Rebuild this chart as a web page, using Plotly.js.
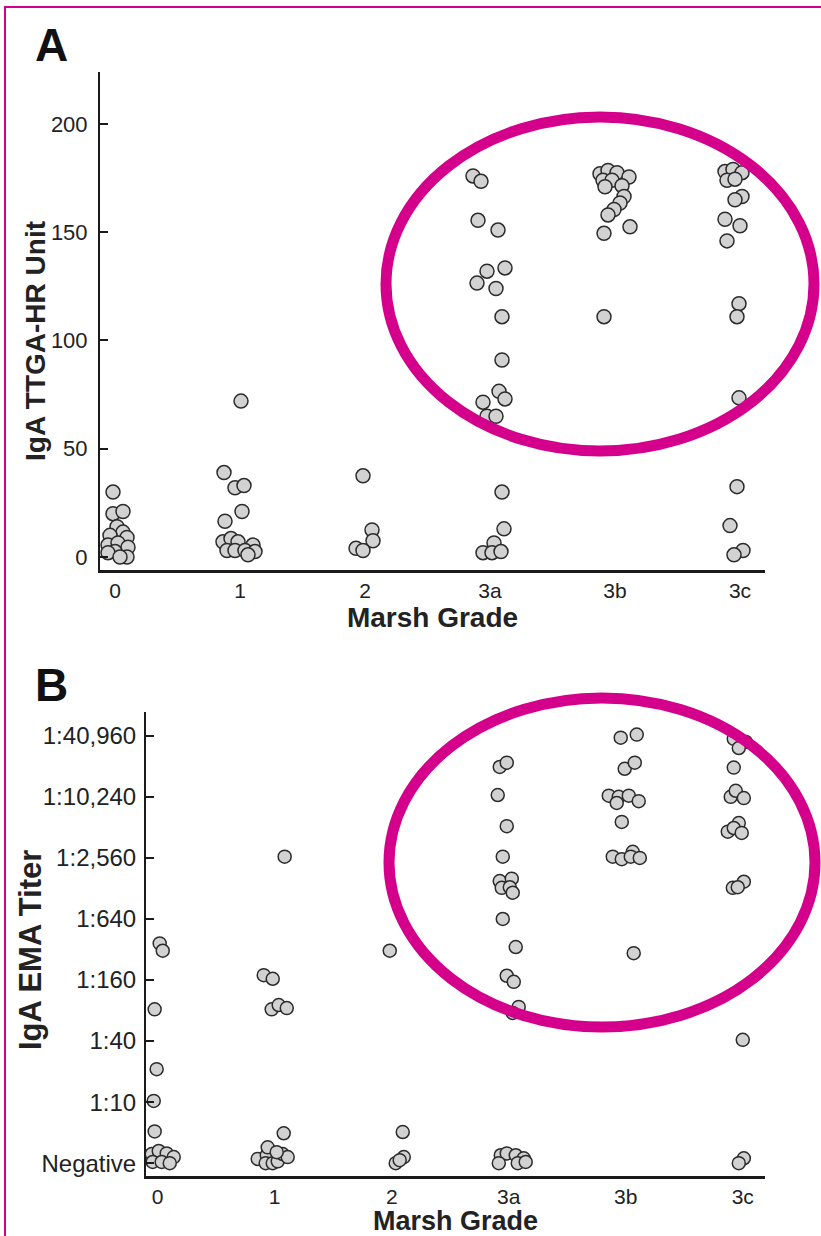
<!DOCTYPE html>
<html><head><meta charset="utf-8">
<script src="https://cdn.plot.ly/plotly-3.0.1.min.js"></script>
<style>html,body{margin:0;padding:0;background:#fff}</style>
</head><body><div id="chart" style="width:821px;height:1236px"></div>
<script>
// Categories and tick labels
const gradeLabels = ["0", "1", "2", "3a", "3b", "3c"];
const ttgTicks = [0, 50, 100, 150, 200];
const titerLabels = ["Negative", "1:10", "1:40", "1:160", "1:640", "1:2,560", "1:10,240", "1:40,960"];

// Panel A: IgA TTGA-HR units per Marsh grade, with horizontal jitter (category units)
const ttg0 = [30, 20, 21, 14, 11.5, 10, 9, 5.5, 6.5, 4.5, 2.5, 0, 2, 0];
const ttg0Jit = [-0.016, -0.016, 0.064, 0.016, 0.064, -0.04, 0.096, -0.056, 0.024, 0.104, 0, 0.096, -0.056, 0.04];
const ttg1 = [72, 39, 32, 33, 21, 16.5, 7, 8.5, 7, 5.5, 3, 3, 3, 2.5, 1];
const ttg1Jit = [0.008, -0.128, -0.04, 0.032, 0.016, -0.12, -0.136, -0.072, -0.016, 0.104, -0.104, -0.04, 0.04, 0.12, 0.064];
const ttg2 = [37.5, 12.5, 7.5, 4, 3];
const ttg2Jit = [-0.016, 0.056, 0.064, -0.072, -0.016];
const ttg3a = [176, 173.5, 155.5, 151, 132, 133.5, 126.5, 124, 111, 91, 71.5, 76.5, 73, 65, 65, 30, 13, 6.5, 2, 2, 2.5];
const ttg3aJit = [-0.136, -0.072, -0.096, 0.064, -0.024, 0.12, -0.104, 0.048, 0.096, 0.096, -0.056, 0.072, 0.12, -0.024, 0.048, 0.096, 0.112, 0.032, -0.056, 0.016, 0.088];
const ttg3b = [177, 178.5, 177.5, 175.5, 174, 174, 171, 171.5, 166.5, 163.5, 160.5, 158, 152.5, 149.5, 111];
const ttg3bJit = [-0.12, -0.056, 0.016, 0.112, -0.096, -0.024, -0.08, 0.056, 0.072, 0.04, -0.008, -0.056, 0.12, -0.088, -0.088];
const ttg3c = [178, 179, 177.5, 174, 174.5, 166.5, 165, 156, 153, 146, 117, 111, 73.5, 32.5, 14.5, 3, 1];
const ttg3cJit = [-0.12, -0.056, 0.016, -0.104, -0.04, 0.016, -0.04, -0.12, 0, -0.104, -0.008, -0.024, -0.008, -0.024, -0.08, 0.024, -0.048];

// Panel B: IgA EMA titer level (0 = Negative, 1 = 1:10, 2 = 1:40 ... 7 = 1:40,960)
const ema0 = [3.6, 3.48, 2.52, 1.54, 1.02, 0.52, 0.15, 0.2, 0.16, 0.1, 0.02, 0.02, 0];
const ema0Jit = [0.017, 0.043, -0.026, -0.009, -0.034, -0.026, -0.051, 0.009, 0.077, 0.137, -0.043, 0.034, 0.103];
const ema1 = [5.02, 3.08, 3.02, 2.52, 2.59, 2.54, 0.49, 0.07, 0.13, 0, 0, 0.03, 0.15, 0.1, 0.26, 0.18];
const ema1Jit = [0.085, -0.094, -0.017, -0.026, 0.034, 0.103, 0.077, -0.145, -0.068, -0.077, -0.017, 0.026, 0.068, 0.111, -0.06, 0.017];
const ema2 = [3.48, 0.51, 0, 0.1, 0.05];
const ema2Jit = [-0.017, 0.094, 0.034, 0.103, 0.068];
const ema3a = [6.49, 6.56, 6.03, 5.52, 5.02, 4.62, 4.66, 4.51, 4.52, 4.43, 4.0, 3.54, 3.07, 2.97, 2.56, 2.46, 0.13, 0.16, 0.13, 0.08, 0, 0, 0.02];
const ema3aJit = [-0.077, -0.017, -0.094, -0.017, -0.051, -0.077, 0.026, -0.06, 0.009, 0.034, -0.051, 0.06, -0.017, 0.043, 0.085, 0.034, -0.068, -0.017, 0.06, 0.128, -0.085, 0.077, 0.145];
const ema3b = [6.97, 7.02, 6.46, 6.56, 6.02, 6.0, 6.02, 5.9, 5.93, 5.59, 5.02, 4.98, 5.1, 5.02, 5.0, 3.44];
const ema3bJit = [-0.043, 0.094, -0.009, 0.077, -0.145, -0.06, 0.026, -0.077, 0.111, -0.034, -0.111, -0.034, 0.06, 0.043, 0.12, 0.068];
const ema3c = [6.95, 6.9, 6.8, 6.48, 6.0, 6.1, 5.98, 5.57, 5.43, 5.49, 5.41, 4.61, 4.51, 4.52, 2.02, 0.08, 0];
const ema3cJit = [-0.077, 0.026, -0.034, -0.077, -0.103, -0.06, 0.009, -0.034, -0.128, -0.077, -0.009, 0.009, -0.085, -0.043, 0, 0.009, -0.034];

const ttgSeries = [[ttg0, ttg0Jit], [ttg1, ttg1Jit], [ttg2, ttg2Jit], [ttg3a, ttg3aJit], [ttg3b, ttg3bJit], [ttg3c, ttg3cJit]];
const emaSeries = [[ema0, ema0Jit], [ema1, ema1Jit], [ema2, ema2Jit], [ema3a, ema3aJit], [ema3b, ema3bJit], [ema3c, ema3cJit]];

function build(series) {
  const xs = [], ys = [];
  series.forEach(([vals, jit], g) => {
    vals.forEach((v, i) => { xs.push(g + jit[i]); ys.push(v); });
  });
  return { xs, ys };
}
const A = build(ttgSeries), B = build(emaSeries);

const markerStyle = (size) => ({ size: size, color: '#d2d2d2', line: { color: '#2b2b2b', width: 1.5 } });

const traces = [
  { type: 'scatter', mode: 'markers', x: A.xs, y: A.ys, xaxis: 'x', yaxis: 'y', marker: markerStyle(14), hoverinfo: 'x+y' },
  { type: 'scatter', mode: 'markers', x: B.xs, y: B.ys, xaxis: 'x2', yaxis: 'y2', marker: markerStyle(13), hoverinfo: 'x+y' }
];

const W = 821, H = 1236;
const px = (x) => x / W, py = (y) => 1 - y / H;
const FONT = 'Liberation Sans, Arial, Helvetica, sans-serif';
const MAG = '#d4008c';

const baseX = {
  showline: true, linecolor: '#1a1a1a', linewidth: 2.5, showgrid: false, zeroline: false,
  ticks: '', tickfont: { family: FONT, size: 21, color: '#222' }, mirror: false
};
const baseY = {
  showline: true, linecolor: '#1a1a1a', linewidth: 2, showgrid: false, zeroline: false,
  ticks: 'inside', ticklen: 8, tickwidth: 2, tickcolor: '#1a1a1a',
  tickfont: { family: FONT, size: 24, color: '#222' }, mirror: false, ticklabelstandoff: 3
};

const layout = {
  width: W, height: H, margin: { l: 0, r: 0, t: 0, b: 0 },
  paper_bgcolor: '#fff', plot_bgcolor: '#fff', showlegend: false,
  xaxis: Object.assign({}, baseX, {
    domain: [px(100), px(765)], range: [-0.12, 5.2], anchor: 'y',
    tickvals: [0, 1, 2, 3, 4, 5], ticktext: gradeLabels,
    title: { text: '<b>Marsh Grade</b>', font: { family: FONT, size: 28, color: '#222' }, standoff: 6 }
  }),
  yaxis: Object.assign({}, baseY, {
    domain: [py(570), py(72)], range: [-6, 224], anchor: 'x',
    tickvals: ttgTicks, ticktext: ttgTicks.map(String),
    tickfont: { family: FONT, size: 22, color: '#222' }, ticklabelstandoff: 6
  }),
  xaxis2: Object.assign({}, baseX, {
    domain: [px(146), px(765)], range: [-0.1, 5.19], anchor: 'y2',
    tickvals: [0, 1, 2, 3, 4, 5], ticktext: gradeLabels,
    title: { text: '<b>Marsh Grade</b>', font: { family: FONT, size: 27, color: '#222' }, standoff: 4 }
  }),
  yaxis2: Object.assign({}, baseY, {
    domain: [py(1176), py(712)], range: [-0.21, 7.39], anchor: 'x2',
    tickvals: [0, 1, 2, 3, 4, 5, 6, 7], ticktext: titerLabels
  }),
  annotations: [
    { text: '<b>A</b>', xref: 'paper', yref: 'paper', x: px(33), y: py(45), xanchor: 'left', yanchor: 'middle', showarrow: false, font: { family: FONT, size: 46, color: '#111' } },
    { text: '<b>B</b>', xref: 'paper', yref: 'paper', x: px(33), y: py(685), xanchor: 'left', yanchor: 'middle', showarrow: false, font: { family: FONT, size: 46, color: '#111' } },
    { text: '<b>IgA TTGA-HR Unit</b>', xref: 'paper', yref: 'paper', x: px(35), y: py(341), xanchor: 'center', yanchor: 'middle', textangle: -90, showarrow: false, font: { family: FONT, size: 28, color: '#222' } },
    { text: '<b>IgA EMA Titer</b>', xref: 'paper', yref: 'paper', x: px(30), y: py(950), xanchor: 'center', yanchor: 'middle', textangle: -90, showarrow: false, font: { family: FONT, size: 31, color: '#222' } }
  ],
  shapes: [
    { type: 'rect', xref: 'paper', yref: 'paper', x0: px(5), x1: px(830), y0: py(7), y1: py(1245), line: { color: MAG, width: 2 }, fillcolor: 'rgba(0,0,0,0)', layer: 'above' },
    { type: 'circle', xref: 'paper', yref: 'paper', x0: px(386), x1: px(814), y0: py(117), y1: py(451), line: { color: MAG, width: 11 }, fillcolor: 'rgba(0,0,0,0)', layer: 'above' },
    { type: 'circle', xref: 'paper', yref: 'paper', x0: px(389), x1: px(815), y0: py(698), y1: py(1027), line: { color: MAG, width: 11 }, fillcolor: 'rgba(0,0,0,0)', layer: 'above' }
  ]
};

Plotly.newPlot('chart', traces, layout, { displayModeBar: false, staticPlot: true });
</script>
</body></html>
